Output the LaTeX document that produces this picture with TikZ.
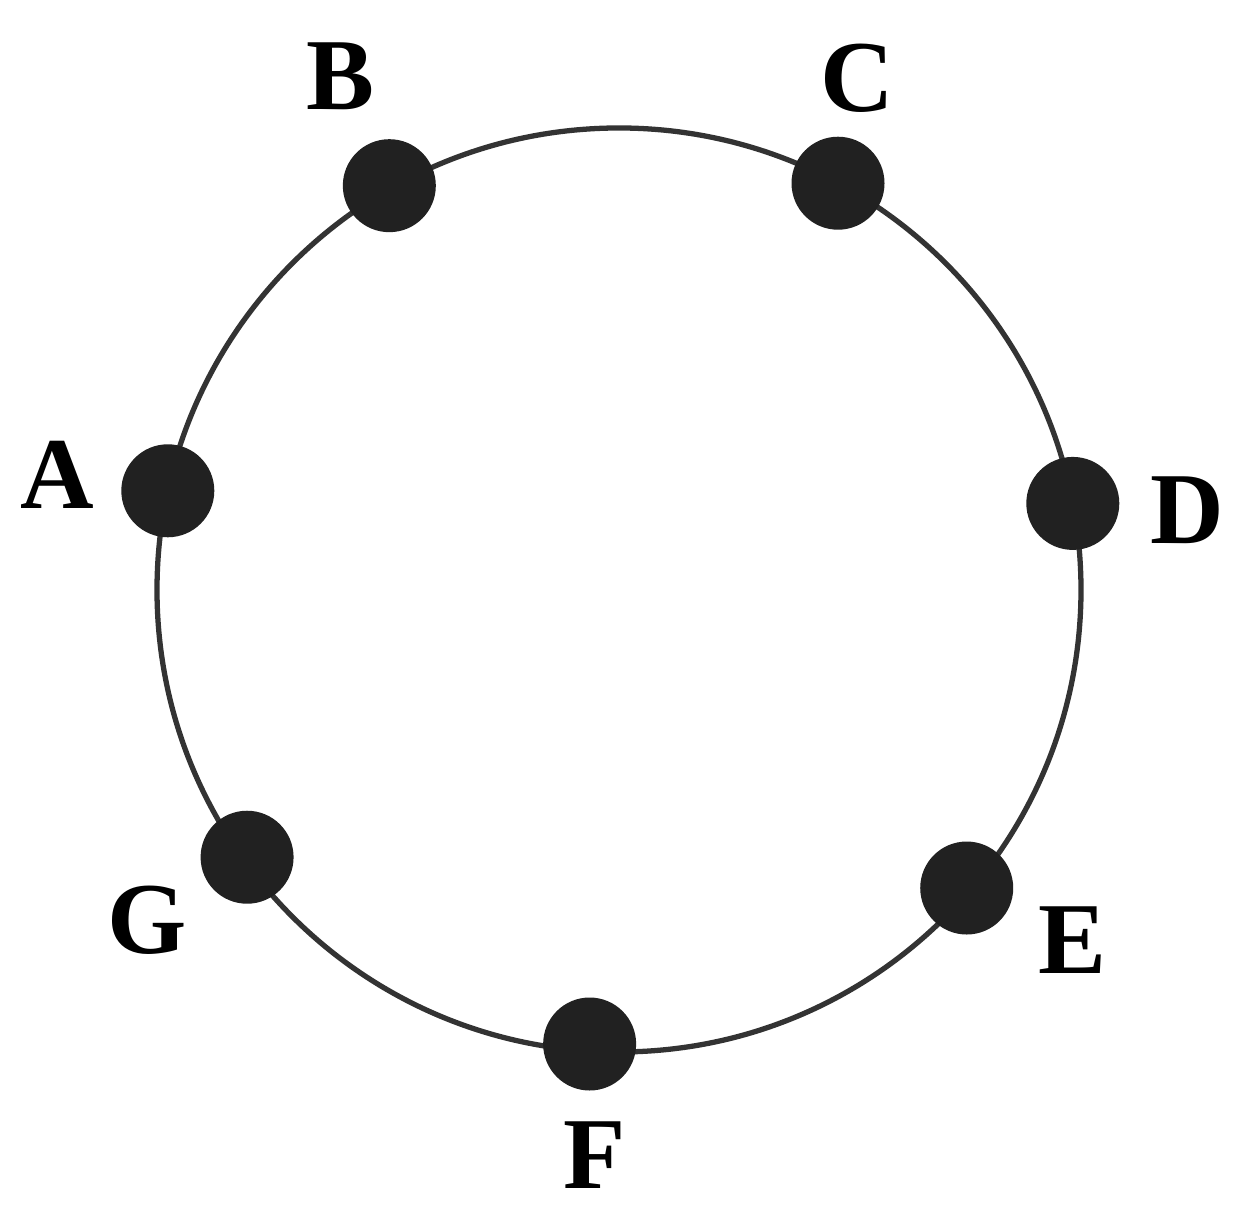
\documentclass[tikz,border=0pt]{standalone}
\usepackage{fontspec}
\setmainfont{Liberation Serif}

\begin{document}
\begin{tikzpicture}[
  dot/.style={circle, fill=black!87, inner sep=0pt, minimum size=0.93cm},
  lbl/.style={font=\fontsize{29}{30}\selectfont\bfseries, inner sep=0pt}
]
\useasboundingbox (0,0) rectangle (12.38,12.19);
% ring:
\begin{scope}[shift={(6.19,6.29)}]
\draw[line width=1.5pt, black!80] (0,0) circle (4.62);
\node[dot] (a) at (167.6:4.62) {};
\node[dot] (b) at (119.6:4.65) {};
\node[dot] (c) at (61.7:4.62) {};
\node[dot] (d) at (10.8:4.62) {};
\node[dot] (e) at (-40.6:4.58) {};
\node[dot] (f) at (266.3:4.55) {};
\node[dot] (g) at (215.7:4.58) {};
\end{scope}
% letters:
\node[lbl] (la) at (0.57,7.44) {A};
\node[lbl] (lb) at (3.40,11.43) {B};
\node[lbl] (lc) at (8.57,11.41) {C};
\node[lbl] (ld) at (11.87,7.09) {D};
\node[lbl] (le) at (10.72,2.79) {E};
\node[lbl] (lf) at (5.95,0.64) {F};
\node[lbl] (lg) at (1.47,2.99) {G};
\end{tikzpicture}
\end{document}
